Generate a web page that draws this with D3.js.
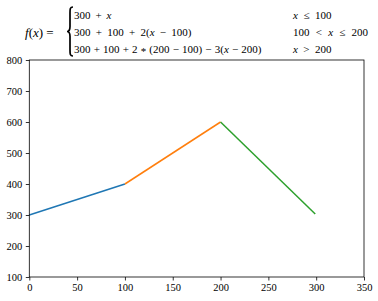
<!DOCTYPE html>
<html><head><meta charset="utf-8">
<script src="https://cdn.jsdelivr.net/npm/d3@7"></script>
<style>body{margin:0;background:#fff}svg{display:block}svg text{font-family:"Liberation Serif","Times New Roman",serif}</style>
</head><body>
<script>
const xTicks = [0, 50, 100, 150, 200, 250, 300, 350];
const yTicks = [100, 200, 300, 400, 500, 600, 700, 800];
const seg1X = [0, 100], seg1Y = [300, 400];
const seg2X = [100, 200], seg2Y = [400, 600];
const seg3X = [200, 299], seg3Y = [600, 303];
const segColors = ["#1f77b4", "#ff7f0e", "#2ca02c"];

const W = 378, H = 301;
const m = {left: 29.3, right: 14, top: 60, bottom: 24};
const svg = d3.select("body").append("svg").attr("width", W).attr("height", H);
const x = d3.scaleLinear().domain([0, 350]).range([m.left, W - m.right]);
const y = d3.scaleLinear().domain([100, 800]).range([H - m.bottom, m.top]);

const segs = [[seg1X, seg1Y], [seg2X, seg2Y], [seg3X, seg3Y]];
const line = d3.line().x(d => x(d[0])).y(d => y(d[1]));
segs.forEach((s, i) => {
  svg.append("path").datum(s[0].map((v, j) => [v, s[1][j]]))
    .attr("d", line).attr("fill", "none").attr("stroke", segColors[i]).attr("stroke-width", 1.5);
});

const xa = svg.append("g").attr("transform", `translate(0,${y(100)})`)
  .call(d3.axisBottom(x).tickValues(xTicks).tickSize(3.5).tickPadding(3.5));
const ya = svg.append("g").attr("transform", `translate(${x(0)},0)`)
  .call(d3.axisLeft(y).tickValues(yTicks).tickSize(3.5).tickPadding(3.5));
[xa, ya].forEach(a => {
  a.attr("font-family", null);
  a.select(".domain").remove();
  a.selectAll("line").attr("stroke", "#000").attr("stroke-width", 0.8);
  a.selectAll("text").attr("font-size", 10.5).attr("fill", "#000");
});
svg.append("rect").attr("x", x(0)).attr("y", y(800)).attr("width", x(350) - x(0)).attr("height", y(100) - y(800))
  .attr("fill", "none").attr("stroke", "#000").attr("stroke-width", 0.8);

// title (piecewise formula)
const t = svg.append("g").attr("font-size", 11).attr("fill", "#000");
// parts: [text, italic, dy]
function rich(g, xx, yy, parts, len, fs) {
  const tx = g.append("text").attr("x", xx).attr("y", yy);
  if (fs) tx.attr("font-size", fs);
  parts.forEach(p => tx.append("tspan").attr("font-style", p[1] ? "italic" : null)
    .attr("dy", p[2] || null).text(p[0]));
  if (len) {
    const s = parts.map(p => p[0]).join("");
    const nsp = (s.match(/ /g) || []).length;
    const cur = tx.node().getComputedTextLength();
    if (nsp > 0) tx.attr("word-spacing", ((len - cur) / nsp).toFixed(3));
  }
}
rich(t, 25, 36.5, [["f", 1], ["(", 0], ["x", 1], [") =", 0]], null, 13);
// brace
const bx = 70, by0 = 7, by1 = 56, bm = 31.5;
t.append("path").attr("d",
  `M${bx + 3},${by0} C${bx},${by0} ${bx},${by0 + 2} ${bx},${by0 + 6} L${bx},${bm - 5} C${bx},${bm - 1} ${bx - 1},${bm} ${bx - 3},${bm}
   C${bx - 1},${bm} ${bx},${bm + 1} ${bx},${bm + 5} L${bx},${by1 - 6} C${bx},${by1 - 2} ${bx},${by1} ${bx + 3},${by1}`)
  .attr("fill", "none").attr("stroke", "#000").attr("stroke-width", 1.7);
rich(t, 74, 18.5, [["300 + ", 0], ["x", 1]], 37.5);
rich(t, 74, 35.5, [["300 + 100 + 2(", 0], ["x", 1], [" − 100)", 0]], 117.5);
rich(t, 74, 52.5, [["300 + 100 + 2 ", 0], ["*", 0, 2.5], [" (200 − 100) − 3(", 0, -2.5], ["x", 1], [" − 200)", 0]], 187.5);
rich(t, 293, 18.5, [["x", 1], [" ≤ 100", 0]], 38.5);
rich(t, 293, 35.5, [["100 < ", 0], ["x", 1], [" ≤ 200", 0]], 75);
rich(t, 293, 52.5, [["x", 1], [" > 200", 0]], 38.5);
</script>
</body></html>
